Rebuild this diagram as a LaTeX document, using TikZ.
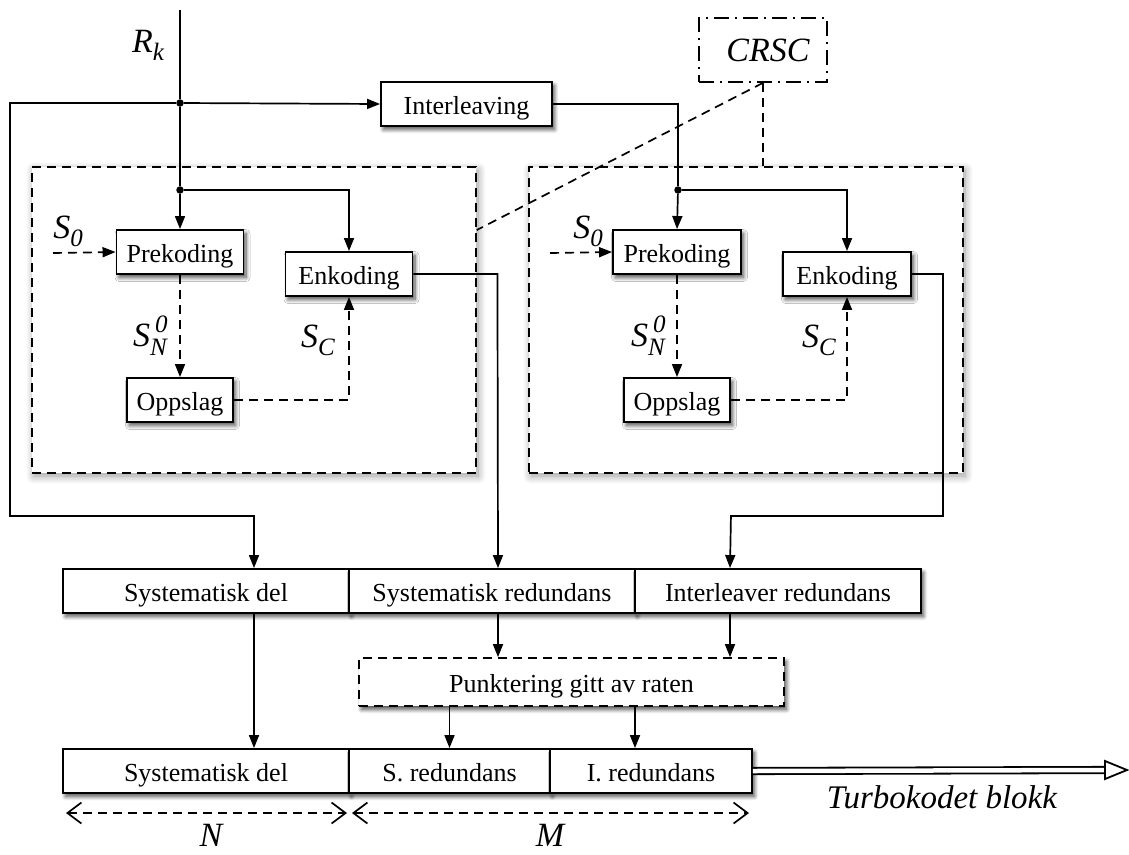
\documentclass[tikz,border=0pt]{standalone}
\usepackage{fontspec}
\setmainfont{Liberation Serif}
\usetikzlibrary{arrows.meta,shadows.blur,calc}

% label fonts
\newcommand\lblfont{\fontsize{34}{34}\selectfont\itshape}
\newcommand\idxfont{\fontsize{25}{25}\selectfont\itshape}
\newcommand\lowidx[1]{\raisebox{-8pt}{\idxfont #1}}
\newcommand\twoidx[2]{\rlap{\kern5pt\raisebox{14pt}{\idxfont #2}}\raisebox{-9pt}{\idxfont #1}}

\tikzset{
  wire/.style={line width=1.7pt},
  arr/.style={wire, -{Triangle[length=13pt,width=10pt]}},
  dasharr/.style={arr, dash pattern=on 9pt off 6pt},
  dashline/.style={wire, dash pattern=on 9pt off 6pt},
  shade/.style={blur shadow={shadow xshift=2.5pt, shadow yshift=-3.5pt,
      shadow blur radius=4pt, shadow blur steps=8, shadow opacity=70}},
  blk/.style={draw, line width=1.9pt, fill=white, inner sep=0pt,
      minimum height=44pt, text height=21pt, text depth=0pt,
      font=\fontsize{26}{30}\selectfont, shade},
  cont/.style={draw, line width=1.7pt, dash pattern=on 9pt off 6pt, fill=white,
      inner sep=0pt,
      blur shadow={shadow xshift=2pt, shadow yshift=-3pt,
      shadow blur radius=8pt, shadow blur steps=10, shadow opacity=40}},
  crscbox/.style={draw, line width=1.7pt,
      dash pattern=on 15pt off 6pt on 2pt off 6pt, inner sep=0pt},
  dot/.style={circle, fill, inner sep=0pt, minimum size=7.5pt},
  lbl/.style={inner sep=0pt, font=\lblfont},
  dimarr/.style={wire, dash pattern=on 9pt off 6pt,
      {Straight Barb[length=14pt,width=21pt]}-{Straight Barb[length=14pt,width=21pt]}},
}

\begin{document}
\begin{tikzpicture}[x=1pt,y=-1pt]
\useasboundingbox (0,0) rectangle (1129,854);

% the two encoder groups
\node[cont, minimum width=444pt, minimum height=306pt] (lbox) at (254,320) {};
\node[cont, minimum width=434pt, minimum height=306pt] (rbox) at (746,320) {};

% CRSC marker
\node[crscbox, minimum width=128pt, minimum height=64pt] (crsc) at (763,50)
  {\hspace*{10pt}\lblfont CRSC};

% blocks
\node[blk, minimum width=171pt] (intl) at (466.5,104) {Interleaving};

\node[blk, minimum width=127pt] (preL) at (180,252) {Prekoding};
\node[blk, minimum width=127pt] (encL) at (349,274) {Enkoding};
\node[blk, minimum width=106pt] (oppL) at (180,400) {Oppslag};

\node[blk, minimum width=128pt] (preR) at (677,252) {Prekoding};
\node[blk, minimum width=128pt] (encR) at (847,274) {Enkoding};
\node[blk, minimum width=106pt] (oppR) at (677,400) {Oppslag};

% first block row
\node[blk, minimum width=286pt] (sysA) at (206,591) {Systematisk del};
\node[blk, minimum width=286pt] (redA) at (492,591) {Systematisk redundans};
\node[blk, minimum width=286pt] (intA) at (778,591) {Interleaver redundans};

% puncturing
\node[blk, dash pattern=on 9pt off 6pt, line width=1.7pt, minimum width=425pt,
      minimum height=48pt] (punk) at (571.5,682) {Punktering gitt av raten};

% output block row
\node[blk, minimum width=286pt] (sysB) at (206,771) {Systematisk del};
\node[blk, minimum width=201pt] (sredB) at (449.5,771) {S. redundans};
\node[blk, minimum width=202pt] (iredB) at (651,771) {I. redundans};

% junctions and free ends
\coordinate (rtop) at (180,10);
\node[dot] (j1) at (180,103) {};
\node[dot] (j2) at (180,190) {};
\node[dot] (j3) at (678,190) {};
\coordinate (s0L) at (53,253);
\coordinate (s0R) at (550,253);
\coordinate (nL) at (66,813);
\coordinate (nR) at (347,813);
\coordinate (mL) at (352,813);
\coordinate (mR) at (749,813);
\coordinate (tipbase) at (1105,770);

% CRSC references
\draw[dashline] (crsc.south) -- (crsc.south |- rbox.north);
\draw[dashline] (crsc.south) -- ([yshift=90pt]lbox.east);

% input and its branches
\draw[wire] (rtop) -- (j1) -- (j2);
\draw[arr] (j1) -- (intl.west);
\draw[arr] (j2) -- (preL.north);
\draw[arr] (j2) -| (encL.north);
\draw[arr] (j1) -- ++(-170,0) |- ++(244,413) -- ([xshift=48pt]sysA.north);

\draw[wire] (intl.east) -| (j3);
\draw[arr] (j3) -- (preR.north);
\draw[arr] (j3) -| (encR.north);

% state paths (left)
\draw[dasharr] (s0L) -- (preL.west);
\draw[dasharr] (preL.south) -- (oppL.north);
\draw[dasharr] (oppL.east) -| (encL.south);
% state paths (right)
\draw[dasharr] (s0R) -- (preR.west);
\draw[dasharr] (preR.south) -- (oppR.north);
\draw[dasharr] (oppR.east) -| (encR.south);

% encoder outputs
\draw[arr] (encL.east) -- ++(84,0) -- ([xshift=6pt]redA.north);
\draw[arr] (encR.east) -- ++(31,0) |- ++(-212,242) -- ([xshift=-48pt]intA.north);

% towards the output block
\draw[arr] ([xshift=48pt]sysA.south) -- ([xshift=48pt]sysB.north);
\draw[arr] ([xshift=6pt]redA.south) -- ([xshift=6pt]redA.south |- punk.north);
\draw[arr] ([xshift=-48pt]intA.south) -- ([xshift=-48pt]intA.south |- punk.north);
\draw[arr] (sredB.north |- punk.south) -- (sredB.north);
\draw[arr] ([xshift=-16pt]iredB.north |- punk.south) -- ([xshift=-16pt]iredB.north);

% output
\draw[line width=1.8pt, double, double distance=4.5pt] (iredB.east) -- (tipbase);
\draw[line width=1.8pt, fill=white] (tipbase) -- ++(0,-9) -- ++(22,9) -- ++(-22,9) -- cycle;
\node[lbl, font=\fontsize{33}{33}\selectfont\itshape] (turbo) at (942,797) {Turbokodet blokk};

% sizes
\draw[dimarr] (nL) -- (nR);
\draw[dimarr] (mL) -- (mR);
\node[lbl] (nlab) at (211,835) {N};
\node[lbl] (mlab) at (550,835) {M};

% labels
\node[lbl] (rk) at (148,45) {R\lowidx{k}};
\node[lbl] (s0a) at (68,231) {S\lowidx{0}};
\node[lbl] (s0b) at (588,231) {S\lowidx{0}};
\node[lbl] (sna) at (150,336) {S\twoidx{N}{0}};
\node[lbl] (snb) at (648,336) {S\twoidx{N}{0}};
\node[lbl] (sca) at (318,340) {S\lowidx{C}};
\node[lbl] (scb) at (819,340) {S\lowidx{C}};
\end{tikzpicture}
\end{document}
